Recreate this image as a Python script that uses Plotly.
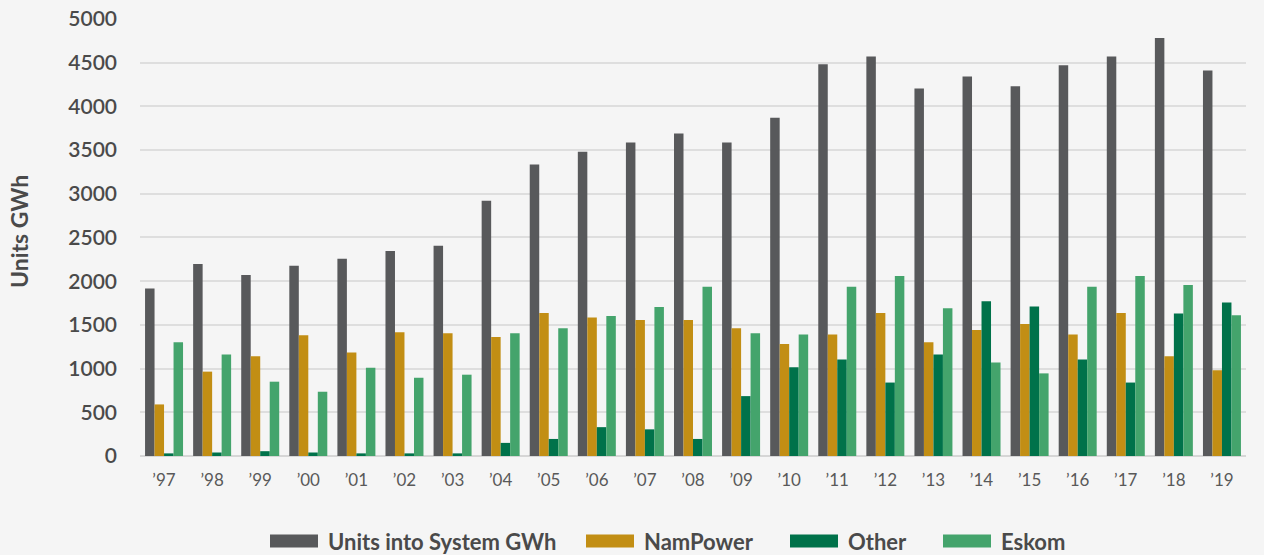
import plotly.graph_objects as go

# Annual electricity supply, GWh
years = ["’97", "’98", "’99", "’00", "’01", "’02", "’03", "’04", "’05", "’06", "’07", "’08",
         "’09", "’10", "’11", "’12", "’13", "’14", "’15", "’16", "’17", "’18", "’19"]

units_into_system = [1915, 2195, 2070, 2175, 2255, 2345, 2405, 2920, 3335, 3480, 3585, 3690,
                     3585, 3870, 4480, 4570, 4205, 4340, 4230, 4470, 4570, 4780, 4410]
nampower = [590, 965, 1140, 1380, 1185, 1415, 1405, 1360, 1635, 1585, 1555, 1555,
            1460, 1280, 1390, 1635, 1300, 1440, 1510, 1390, 1635, 1140, 980]
other = [30, 40, 55, 40, 30, 30, 30, 150, 195, 330, 305, 195,
         685, 1015, 1105, 840, 1160, 1770, 1710, 1105, 840, 1630, 1755]
eskom = [1300, 1160, 850, 735, 1010, 895, 930, 1405, 1460, 1600, 1705, 1935,
         1405, 1390, 1935, 2060, 1690, 1070, 945, 1935, 2060, 1955, 1610]

series = [
    ("Units into System GWh", units_into_system, "#58595b"),
    ("NamPower", nampower, "#c28e14"),
    ("Other", other, "#00724a"),
    ("Eskom", eskom, "#44a46c"),
]

W, H = 1264, 555
L, R, T, B = 140, 18, 18, 99
plot_w = W - L - R
plot_h = H - T - B

fig = go.Figure()
for name, vals, color in series:
    fig.add_trace(go.Bar(x=years, y=vals, name=name, marker_color=color,
                         marker_line_width=0, showlegend=False))

fig.update_layout(
    width=W, height=H,
    margin=dict(l=L, r=R, t=T, b=B),
    paper_bgcolor="#f5f5f5", plot_bgcolor="#f5f5f5",
    barmode="group", bargap=0.21, bargroupgap=0,
    font=dict(family="Lato", color="#4d4d4d"),
)
fig.update_yaxes(
    range=[0, 5010], tickvals=list(range(0, 5001, 500)),
    showgrid=True, gridcolor="#dedede", gridwidth=2,
    zeroline=True, zerolinecolor="#d6d6d6", zerolinewidth=2,
    tickfont=dict(family="Lato", size=21, color="#4a4a4a", weight=600),
    ticklabelstandoff=22, showline=False, automargin=False,
)
fig.update_xaxes(
    tickfont=dict(family="Lato", size=17, color="#595959"),
    ticklabelstandoff=12, showline=False, showgrid=False, automargin=False,
)

# Axis title
fig.add_annotation(
    text="Units GWh", textangle=-90, xref="paper", yref="paper",
    x=(19 - L) / plot_w, y=(H - B - 232) / plot_h, showarrow=False,
    xanchor="center", yanchor="middle",
    font=dict(family="Lato", size=23, color="#4a4a4a", weight="bold"),
)

# Legend row beneath the chart
legend_items = [
    ("Units into System GWh", "#58595b", 270),
    ("NamPower", "#c28e14", 586),
    ("Other", "#00724a", 790),
    ("Eskom", "#44a46c", 943),
]
sw_w, sw_h, leg_y = 48, 13, 541
for label, color, x0 in legend_items:
    fig.add_shape(
        type="rect", xref="paper", yref="paper",
        x0=(x0 - L) / plot_w, x1=(x0 + sw_w - L) / plot_w,
        y0=(H - B - (leg_y + sw_h / 2)) / plot_h, y1=(H - B - (leg_y - sw_h / 2)) / plot_h,
        fillcolor=color, line_width=0,
    )
    fig.add_annotation(
        text=label, xref="paper", yref="paper",
        x=(x0 + sw_w + 8 - L) / plot_w, y=(H - B - leg_y) / plot_h,
        showarrow=False, xanchor="left", yanchor="middle",
        font=dict(family="Lato", size=22, color="#4a4a4a", weight="bold"),
    )

fig.write_html("out.html")
